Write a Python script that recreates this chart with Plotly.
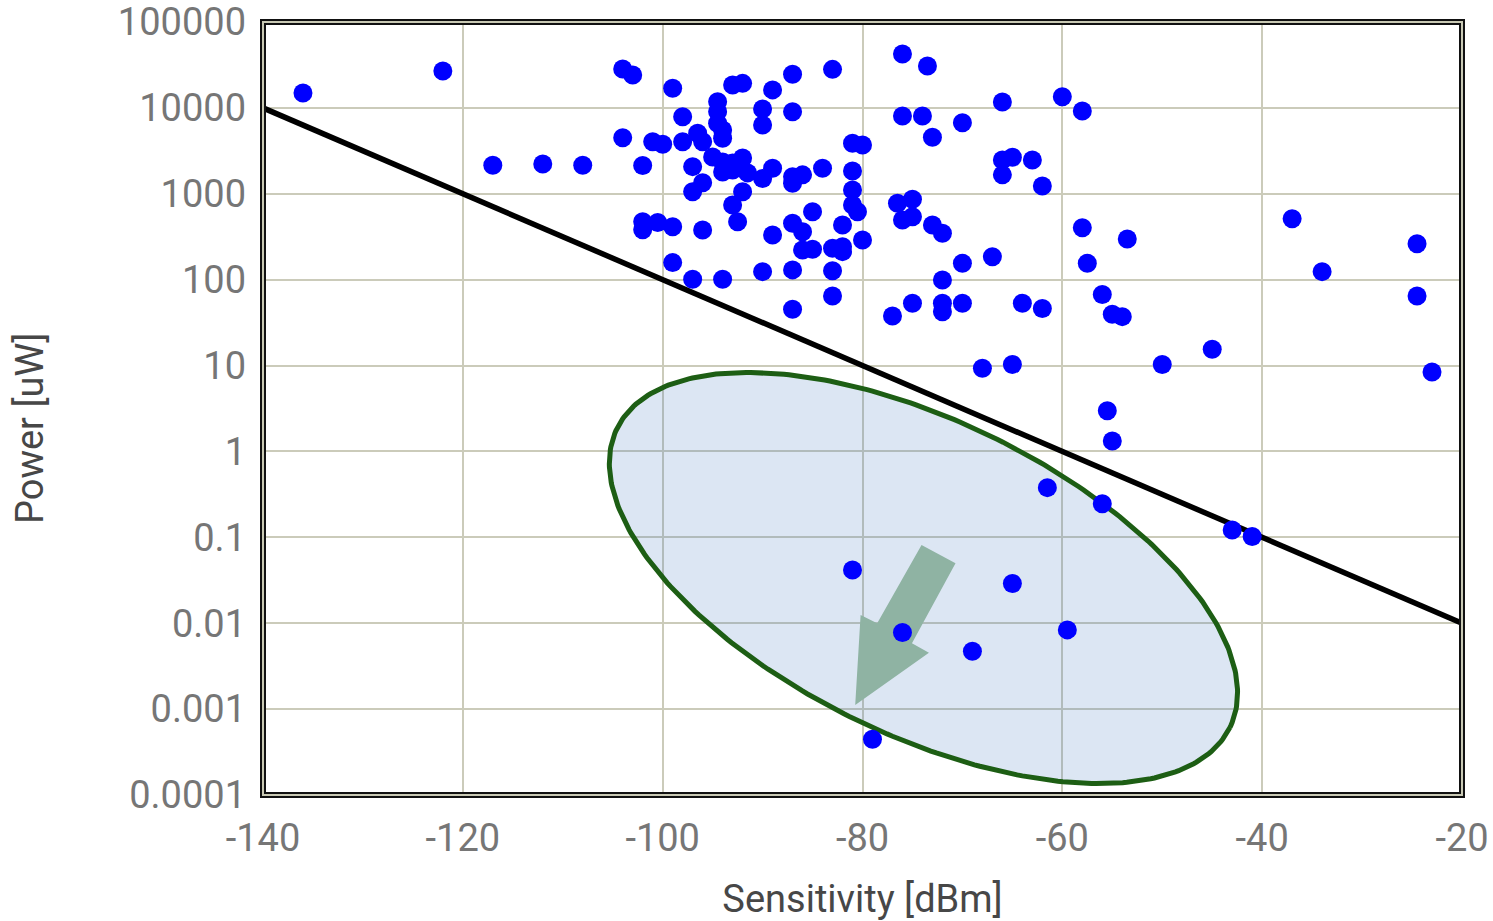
import numpy as np
import plotly.graph_objects as go

# ---------------- data ----------------
sensitivity_dbm = [
    -136, -122, -117, -112, -108, -104, -103, -104, -101, -100,
    -102, -102, -102, -100.5, -99, -99, -99, -98, -98, -97,
    -97, -97, -96.5, -96, -96, -96, -94.5, -94.5, -94.5, -94,
    -94, -94, -93, -92, -89, -87, -83, -90, -90, -87,
    -95, -94, -93, -92, -94, -93, -91.5, -89, -90, -87,
    -86, -84, -87, -92, -93, -92.5, -89, -87, -86, -85,
    -82, -86, -85, -83, -82, -82, -80, -90, -87, -83,
    -83, -87, -77, -81, -80, -81, -81, -81, -80.5, -76,
    -73.5, -76, -74, -73, -70, -66, -60, -58, -66, -65,
    -63, -66, -62, -76.5, -75, -76, -75, -73, -72, -70,
    -67, -72, -58, -53.5, -57.5, -56, -55, -54, -75, -72,
    -72, -70, -64, -62, -37, -24.5, -34, -24.5, -68, -65,
    -50, -45, -23, -55.5, -55, -61.5, -56, -43, -41, -81,
    -65, -76, -59.5, -69, -79,
]
power_uw = [
    14900, 26900, 2150, 2220, 2150, 28400, 24200, 4500, 4040, 3770,
    2130, 473, 382, 463, 16900, 414, 158, 7900, 4040, 2070,
    1057, 101, 5060, 4040, 1346, 379, 11800, 9030, 6620, 5530,
    4430, 101, 18500, 19300, 16200, 24600, 28100, 9710, 6320, 9030,
    2680, 2340, 2280, 2610, 1790, 1890, 1750, 1980, 1510, 1580,
    1660, 1980, 1325, 1057, 741, 473, 331, 454, 362, 619,
    434, 222, 226, 232, 242, 212, 290, 124, 130, 127,
    64.6, 45.2, 37.8, 3870, 3700, 1840, 1107, 741, 619, 42400,
    30700, 8050, 8050, 4550, 6730, 11700, 13500, 9200, 2470, 2660,
    2470, 1660, 1233, 775, 863, 495, 541, 434, 347, 155,
    185, 99.3, 403, 298, 155, 67.3, 39.5, 37.1, 53.1, 53.1,
    42.4, 53.1, 53.1, 46.2, 513, 262, 124, 64.6, 9.3, 10.3,
    10.3, 15.5, 8.4, 2.98, 1.32, 0.379, 0.246, 0.122, 0.102, 0.0417,
    0.029, 0.00778, 0.00836, 0.00472, 0.000446,
]

# boundary line (power vs sensitivity)
line_x = [-140, -20]
line_y = [10000, 0.01]

x_ticks = [-140, -120, -100, -80, -60, -40, -20]
x_tick_labels = ["-140", "-120", "-100", "-80", "-60", "-40", "-20"]
y_ticks = [1e5, 1e4, 1e3, 1e2, 1e1, 1, 0.1, 0.01, 0.001, 0.0001]
y_tick_labels = ["100000", "10000", "1000", "100", "10", "1",
                 "0.1", "0.01", "0.001", "0.0001"]

# ---------------- decoration geometry (data units) ----------------
X_RANGE = (-140, -20)
Y_LOG_RANGE = (-4, 5)
PLOT_W, PLOT_H = 1199, 773          # plot area in px
PX_PER_X = PLOT_W / (X_RANGE[1] - X_RANGE[0])
PX_PER_DEC = PLOT_H / (Y_LOG_RANGE[1] - Y_LOG_RANGE[0])

ell_cx, ell_cy_log = -73.9, -1.473
ell_a_px, ell_b_px, ell_rot_deg = 341, 157, 26.0
t = np.linspace(0, 2 * np.pi, 361)
th = np.radians(ell_rot_deg)
dx = ell_a_px * np.cos(t) * np.cos(th) - ell_b_px * np.sin(t) * np.sin(th)
dy = ell_a_px * np.cos(t) * np.sin(th) + ell_b_px * np.sin(t) * np.cos(th)
ell_x = ell_cx + dx / PX_PER_X
ell_y = 10 ** (ell_cy_log - dy / PX_PER_DEC)

arrow_x = [-74.09, -70.69, -75.05, -73.35, -80.73, -80.19, -78.53, -74.09]
arrow_ylog = [-1.089, -1.302, -2.234, -2.343, -2.952, -1.904, -2.001, -1.089]
arrow_y = [10 ** v for v in arrow_ylog]

# ---------------- figure ----------------
fig = go.Figure()
fig.add_trace(go.Scatter(
    x=ell_x, y=ell_y, mode="lines", fill="toself",
    fillcolor="rgba(70,120,190,0.19)",
    line=dict(color="#1d5e14", width=5), hoverinfo="skip"))
fig.add_trace(go.Scatter(
    x=arrow_x, y=arrow_y, mode="lines", fill="toself",
    fillcolor="#8fb3a3", line=dict(width=0),
    hoverinfo="skip"))
fig.add_trace(go.Scatter(
    x=line_x, y=line_y, mode="lines",
    line=dict(color="black", width=5.5)))
fig.add_trace(go.Scatter(
    x=sensitivity_dbm, y=power_uw, mode="markers",
    marker=dict(color="#0000ff", size=19, line=dict(width=0))))

grid = "#cbcbba"
tick_font = dict(family="Roboto", size=38, color="#767676")
title_font = dict(family="Roboto", size=38, color="#474747")

fig.update_layout(
    width=1493, height=921,
    margin=dict(l=263, r=31, t=22, b=126, autoexpand=False),
    paper_bgcolor="white", plot_bgcolor="white",
    showlegend=False,
    font=dict(family="Roboto"),
    xaxis=dict(
        range=list(X_RANGE), tickvals=x_ticks, ticktext=x_tick_labels,
        showgrid=True, gridcolor=grid, gridwidth=2, zeroline=False,
        tickfont=tick_font, ticks="", ticklabelstandoff=17, automargin=False,
        title=dict(text="Sensitivity [dBm]", font=title_font, standoff=27),
    ),
    yaxis=dict(
        type="log", range=list(Y_LOG_RANGE), tickvals=y_ticks,
        ticktext=y_tick_labels, showgrid=True, gridcolor=grid,
        gridwidth=2, zeroline=False, tickfont=tick_font, ticks="",
        ticklabelstandoff=16, automargin=False,
    ),
    shapes=[
        dict(type="rect", xref="paper", yref="paper", x0=0, x1=1, y0=0, y1=1,
             line=dict(color="#111111", width=6), layer="above"),
        dict(type="rect", xref="paper", yref="paper", x0=0, x1=1, y0=0, y1=1,
             line=dict(color="#c9c9b4", width=2), layer="above"),
    ],
    annotations=[
        dict(text="Power [uW]", xref="paper", yref="paper",
             x=(30 - 263) / PLOT_W, y=(795 - 429) / PLOT_H,
             textangle=-90, showarrow=False, font=title_font,
             xanchor="center", yanchor="middle"),
    ],
)

fig.write_html("out.html", config={"displayModeBar": False},
               post_script="document.body.style.margin='0';document.body.style.overflow='hidden';")
